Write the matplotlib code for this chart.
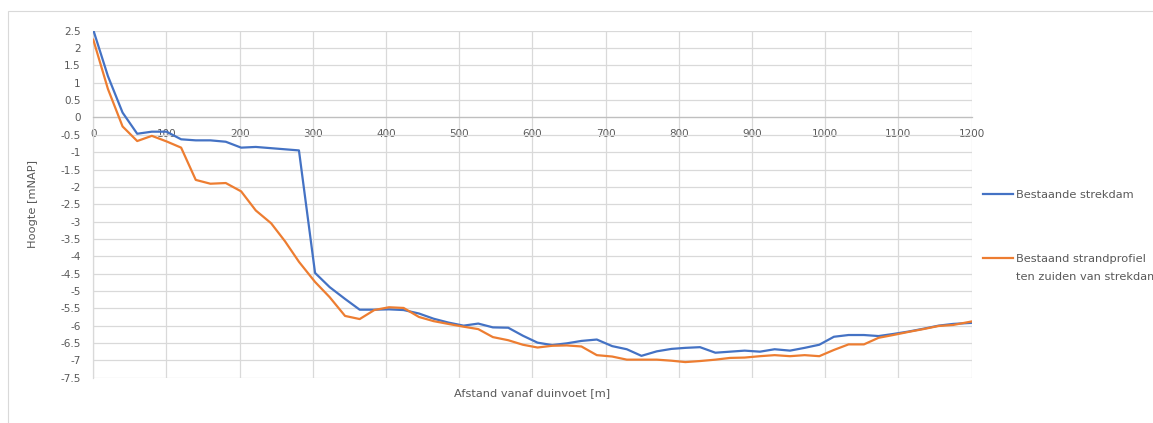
import matplotlib
matplotlib.use("Agg")
import matplotlib.pyplot as plt
from matplotlib.patches import Rectangle
from matplotlib.ticker import MultipleLocator, FuncFormatter

plt.rcParams["font.family"] = "DejaVu Sans"
plt.rcParams["axes.unicode_minus"] = False

# afstand vanaf duinvoet [m]
afstand = [0, 20, 40, 60, 80, 100, 120, 140, 160, 181,
           202, 222, 243, 262, 281, 303, 323, 344, 364, 384,
           404, 424, 445, 465, 485, 506, 526, 546, 567, 587,
           607, 627, 647, 667, 688, 709, 729, 749, 770, 790,
           809, 829, 850, 870, 890, 911, 931, 952, 972, 992,
           1012, 1032, 1053, 1073, 1093, 1114, 1134, 1155, 1175, 1200]

# strekdam profile has no points between 222 and 281 m
afstand_strekdam = [0, 20, 40, 60, 80, 100, 120, 140, 160, 181,
                    202, 222, 281, 303, 323, 344, 364, 384,
                    404, 424, 445, 465, 485, 506, 526, 546, 567, 587,
                    607, 627, 647, 667, 688, 709, 729, 749, 770, 790,
                    809, 829, 850, 870, 890, 911, 931, 952, 972, 992,
                    1012, 1032, 1053, 1073, 1093, 1114, 1134, 1155, 1175, 1200]

hoogte_strekdam = [2.52, 1.19, 0.14, -0.47, -0.41, -0.41, -0.63, -0.66, -0.66, -0.70,
                   -0.87, -0.85, -0.95, -4.48, -4.89, -5.23, -5.54, -5.54,
                   -5.53, -5.55, -5.65, -5.80, -5.91, -6.00, -5.94, -6.05, -6.06, -6.29,
                   -6.49, -6.56, -6.51, -6.44, -6.40, -6.59, -6.68, -6.87, -6.74, -6.67,
                   -6.64, -6.62, -6.78, -6.75, -6.72, -6.75, -6.68, -6.72, -6.64, -6.55,
                   -6.32, -6.27, -6.27, -6.30, -6.24, -6.17, -6.09, -6.00, -5.95, -5.92]

hoogte_strand = [2.24, 0.82, -0.26, -0.68, -0.53, -0.69, -0.87, -1.80, -1.91, -1.89,
                 -2.13, -2.68, -3.05, -3.57, -4.16, -4.74, -5.18, -5.72, -5.81, -5.55,
                 -5.47, -5.49, -5.75, -5.87, -5.95, -6.03, -6.10, -6.33, -6.42, -6.55,
                 -6.63, -6.58, -6.57, -6.60, -6.85, -6.89, -6.98, -6.98, -6.98, -7.01,
                 -7.05, -7.02, -6.98, -6.93, -6.92, -6.88, -6.85, -6.88, -6.85, -6.88,
                 -6.70, -6.54, -6.54, -6.35, -6.27, -6.18, -6.10, -6.01, -5.98, -5.88]

BLUE = "#4472C4"
ORANGE = "#ED7D31"
GRID = "#d9d9d9"
TEXT = "#595959"
FS_TICK = 7.5
FS_LAB = 8.2

W, H = 1153, 423
fig = plt.figure(figsize=(W / 100, H / 100), dpi=100)
ax = fig.add_axes([93.3 / W, 1 - 377.7 / H, (971.5 - 93.3) / W, (377.7 - 30.7) / H])

# outer chart border (runs off the right and bottom of the picture)
fig.add_artist(Rectangle((8 / W, -0.1), 1.2, 1.1 - 11 / H,
                         transform=fig.transFigure, fill=False,
                         edgecolor=GRID, lw=0.8))

line_a, = ax.plot(afstand_strekdam, hoogte_strekdam, color=BLUE, lw=1.6, zorder=3)
line_b, = ax.plot(afstand, hoogte_strand, color=ORANGE, lw=1.6, zorder=3)

ax.set_xlim(0, 1200)
ax.set_ylim(-7.5, 2.5)
ax.xaxis.set_major_locator(MultipleLocator(100))
ax.yaxis.set_major_locator(MultipleLocator(0.5))
ax.yaxis.set_major_formatter(FuncFormatter(lambda v, p: f"{v:g}"))

ax.set_axisbelow(True)
ax.grid(True, color=GRID, lw=0.9)
for s in ["top", "right"]:
    ax.spines[s].set_visible(False)
ax.spines["bottom"].set_position(("data", 0))
ax.spines["bottom"].set_color("#bfbfbf")
ax.spines["left"].set_color(GRID)
ax.spines["bottom"].set_linewidth(0.9)
ax.spines["left"].set_linewidth(0.9)

ax.tick_params(axis="both", length=0, labelsize=FS_TICK, labelcolor=TEXT)
ax.tick_params(axis="y", pad=9)
ax.tick_params(axis="x", pad=8.5)

ax.text(0.5, -0.045, "Afstand vanaf duinvoet [m]", transform=ax.transAxes,
        ha="center", va="center", fontsize=FS_LAB, color=TEXT)
ax.text(-0.0687, 0.5, "Hoogte [mNAP]", transform=ax.transAxes, rotation=90,
        ha="center", va="center", fontsize=FS_LAB, color=TEXT)

# legend, one entry per box so the spacing can follow the original
leg_kw = dict(frameon=False, fontsize=FS_LAB, handlelength=2.6, handletextpad=0.3,
              borderpad=0, borderaxespad=0, loc="center left",
              bbox_transform=fig.transFigure, labelcolor=TEXT)
leg1 = ax.legend([line_a], ["Bestaande strekdam"],
                 bbox_to_anchor=(983 / W, 1 - 195 / H), **leg_kw)
ax.add_artist(leg1)
leg2 = ax.legend([line_b], ["Bestaand strandprofiel"],
                 bbox_to_anchor=(983 / W, 1 - 259 / H), **leg_kw)
for lg in (leg1, leg2):
    for h in lg.legend_handles:
        h.set_linewidth(1.6)

fig.canvas.draw()
bb = leg2.get_texts()[0].get_window_extent()
fig.text(bb.x0 / W, 1 - 277 / H, "ten zuiden van strekdam",
         ha="left", va="center", fontsize=FS_LAB, color=TEXT)

fig.savefig("out.png", dpi=100)
